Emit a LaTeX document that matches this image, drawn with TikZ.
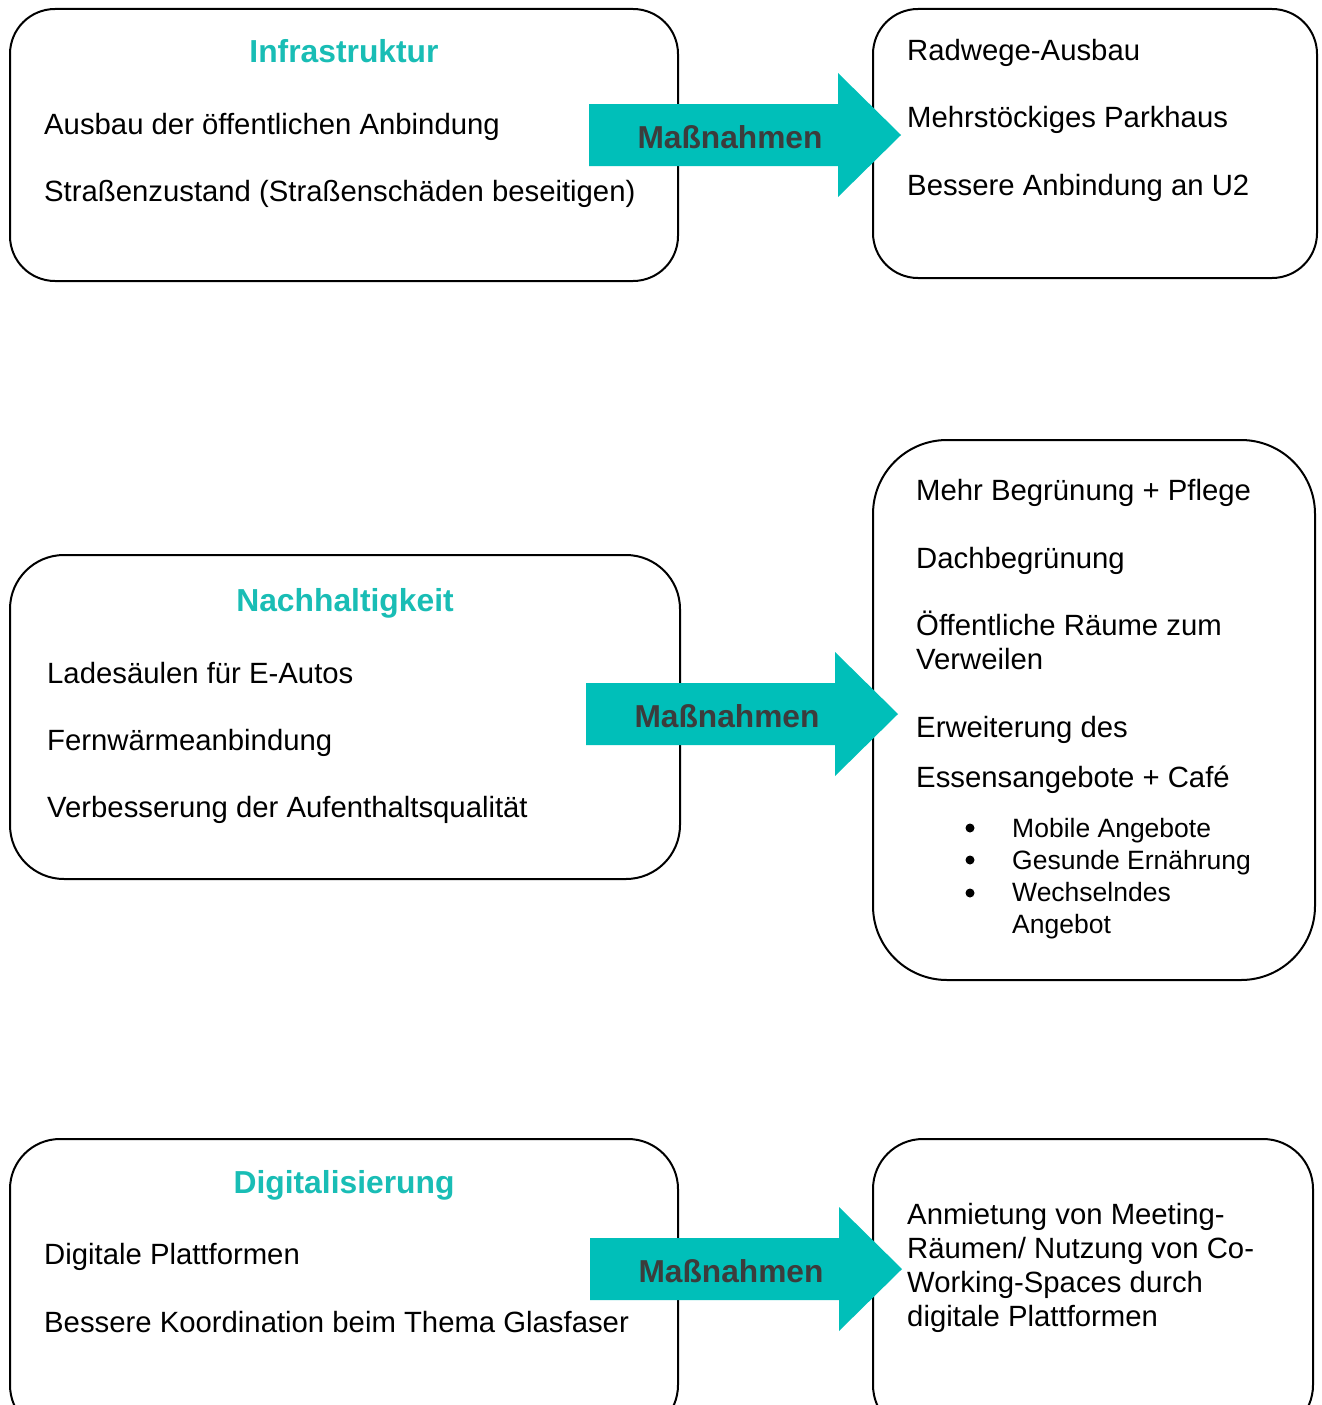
\documentclass[tikz,border=0pt]{standalone}
\usepackage{fontspec}
\setmainfont{Liberation Sans}
\usetikzlibrary{positioning}
\definecolor{tealfill}{HTML}{00BFB9}
\definecolor{tealtext}{HTML}{19BDB5}
\definecolor{labelgray}{HTML}{3C3C3C}
\tikzset{
  panel/.style={rectangle, draw=black, line width=2pt, fill=white, inner sep=0pt},
  heading/.style={font=\fontsize{31.8}{38}\selectfont\bfseries, text=tealtext, anchor=base, inner sep=0pt},
  item/.style={font=\fontsize{29.3}{33.7}\selectfont, anchor=base west, align=left, inner sep=0pt},
  subitem/.style={font=\fontsize{26.5}{31.5}\selectfont, anchor=base west, align=left, inner sep=0pt},
  dot/.style={circle, fill=black, inner sep=0pt, minimum size=9pt},
  arrowlabel/.style={font=\fontsize{31.7}{38}\selectfont\bfseries, text=labelgray, inner sep=0pt},
}
\begin{document}
\begin{tikzpicture}[x=1pt, y=-1pt]
\useasboundingbox (0,0) rectangle (1322,1405);
\clip (0,0) rectangle (1322,1405);

% Panels
\node[panel, rounded corners=45pt, minimum width=668pt, minimum height=272pt] (infra) at (344,145) {};
\node[panel, rounded corners=45pt, minimum width=444pt, minimum height=269pt] (infraM) at (1095,143.5) {};
\node[panel, rounded corners=54pt, minimum width=670pt, minimum height=324pt] (nach) at (345,717) {};
\node[panel, rounded corners=74pt, minimum width=442pt, minimum height=540pt] (nachM) at (1094,710) {};
\node[panel, rounded corners=50pt, minimum width=668pt, minimum height=296pt] (digi) at (344,1287) {};
\node[panel, rounded corners=50pt, minimum width=440pt, minimum height=296pt] (digiM) at (1093,1287) {};

% Arrows
\foreach \x/\y/\n in {589/135/arrInfra, 586/714/arrNach, 590/1269/arrDigi} {
  \fill[tealfill] (\x,\y-31) -- (\x+249,\y-31) -- (\x+249,\y-62) -- (\x+312,\y)
    -- (\x+249,\y+62) -- (\x+249,\y+31) -- (\x,\y+31) -- cycle;
  \node[arrowlabel] (\n) at (\x+141,\y+2) {Maßnahmen};
}

% Infrastruktur
\node[heading] (infraT) at (344,63) {Infrastruktur};
\node[item] (infra1) at (44,134) {Ausbau der öffentlichen Anbindung};
\node[item] (infra2) at (44,201) {Straßenzustand (Straßenschäden beseitigen)};
\node[item] (infraM1) at (907,60) {Radwege-Ausbau};
\node[item] (infraM2) at (907,127) {Mehrstöckiges Parkhaus};
\node[item] (infraM3) at (907,195) {Bessere Anbindung an U2};

% Nachhaltigkeit
\node[heading] (nachT) at (345,611) {Nachhaltigkeit};
\node[item] (nach1) at (47,683) {Ladesäulen für E-Autos};
\node[item] (nach2) at (47,750) {Fernwärmeanbindung};
\node[item] (nach3) at (47,817) {Verbesserung der Aufenthaltsqualität};
\node[item] (nachM1) at (916,500) {Mehr Begrünung + Pflege};
\node[item] (nachM2) at (916,568) {Dachbegrünung};
\node[item] (nachM3) at (916,669) {Öffentliche Räume zum\\Verweilen};
\node[item] (nachM4) at (916,737) {Erweiterung des};
\node[item] (nachM5) at (916,787) {Essensangebote + Café};
\foreach \y/\n in {828/b1, 860/b2, 893/b3}
  \node[dot] (\n) at (970,\y) {};
\node[subitem] (sub1) at (1012,837) {Mobile Angebote};
\node[subitem] (sub2) at (1012,869) {Gesunde Ernährung};
\node[subitem] (sub3) at (1012,933) {Wechselndes\\Angebot};

% Digitalisierung
\node[heading] (digiT) at (344,1193) {Digitalisierung};
\node[item] (digi1) at (44,1264) {Digitale Plattformen};
\node[item] (digi2) at (44,1332) {Bessere Koordination beim Thema Glasfaser};
\node[item] (digiM1) at (907,1326) {Anmietung von Meeting-\\Räumen/ Nutzung von Co-\\Working-Spaces durch\\digitale Plattformen};
\end{tikzpicture}
\end{document}
